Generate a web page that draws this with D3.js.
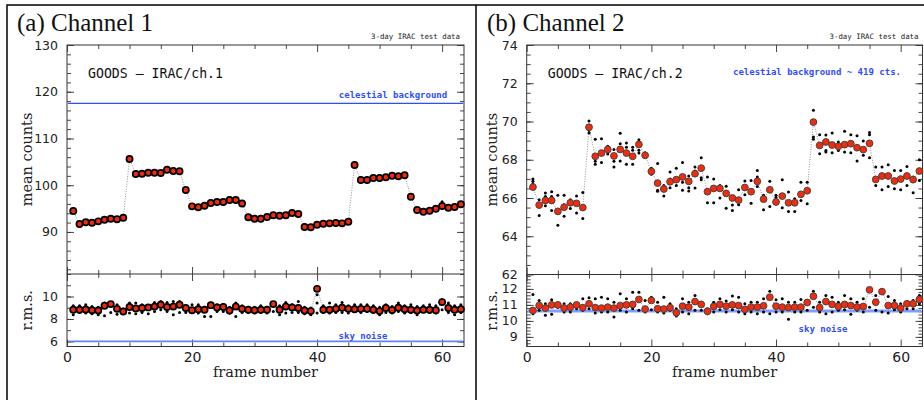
<!DOCTYPE html>
<html><head><meta charset="utf-8">
<script src="https://cdn.jsdelivr.net/npm/d3@7"></script>
<style>body{margin:0;background:#fff}svg{display:block}</style>
</head><body>
<script>
// ---------------- data ----------------
const frames = d3.range(1, 64);
const xMajor = [0, 20, 40, 60];

// Channel 1
const meanA = [94.48,91.69,92.06,91.97,92.27,92.61,92.83,92.70,93.04,105.60,
  102.39,102.46,102.67,102.67,102.61,103.31,103.04,102.97,98.97,95.48,
  95.27,95.61,96.19,96.40,96.40,96.83,96.83,96.08,93.13,92.81,
  92.83,93.19,93.56,93.47,93.56,94.05,93.83,91.05,90.99,91.54,
  91.76,91.84,91.91,91.84,92.19,104.32,101.11,101.11,101.54,101.54,
  101.69,102.03,101.90,102.12,97.54,94.69,94.33,94.54,94.97,95.55,
  95.18,95.33,95.91];
const extraDotsA = [[60, 96.45]];
const rmsA = [8.82,8.82,8.84,8.78,8.75,9.17,9.32,8.90,8.67,9.06,
  8.94,8.97,9.03,9.10,9.26,9.06,9.10,9.26,8.97,8.78,
  8.87,8.82,9.23,9.03,9.06,8.75,9.10,8.90,8.82,8.78,
  8.82,8.82,9.32,8.82,9.10,9.03,8.97,8.75,8.70,10.68,
  8.82,8.82,8.90,9.00,8.90,8.87,8.90,8.90,8.82,8.70,
  8.97,8.80,9.00,8.87,8.82,8.75,8.82,8.82,8.78,9.50,
  8.97,8.82,8.87];
const rmsDotsA = [[9.17,8.37],[9.17,8.58],[9.26,8.52],[9.11,8.46],[9.05,8.37],[9.41,8.29],[9.47,8.58],[9.26,8.43],[8.88,8.58],[9.41,8.52],
  [9.41,8.46],[9.26,8.58],[9.17,8.46],[9.47,8.67],[9.56,8.82],[9.47,8.67],[9.56,8.37],[9.56,8.58],[9.17,8.58],[9.26,8.58],
  [9.26,8.52],[9.05,8.23],[9.41,8.23],[9.26,8.67],[9.26,8.67],[9.05,8.52],[9.41,8.23],[9.17,8.58],[9.05,8.58],[9.05,8.52],
  [9.17,8.58],[9.05,8.52],[9.41,8.67],[9.17,8.37],[9.47,8.52],[9.26,8.58],[9.56,8.58],[9.05,8.46],[8.97,8.37],[10.15,9.41,8.52],
  [9.17,8.58],[9.41,8.52],[9.26,8.58],[9.47,8.58],[9.17,8.52],[9.26,8.67],[9.26,8.58],[9.26,8.67],[9.17,8.58],[9.05,8.37],
  [9.26,8.58],[9.11,8.52],[9.41,8.67],[9.17,8.52],[9.26,8.58],[9.11,8.37],[9.17,8.67],[9.26,8.58],[9.17,8.52],[9.70,8.82],
  [9.41,8.58],[9.17,8.37],[9.26,8.58]];
const celestialA = 117.5;
const skyA = 6.0;

// Channel 2
const meanB = [66.57,65.63,65.87,65.87,65.30,65.52,65.75,65.72,65.50,69.70,
  68.18,68.35,68.54,68.20,68.54,68.35,68.18,68.80,68.23,67.39,
  66.78,66.47,66.85,66.96,67.10,66.87,67.27,67.56,66.33,66.50,
  66.50,66.24,66.00,65.89,66.55,66.33,66.87,65.94,66.43,65.79,
  66.10,65.75,65.75,66.19,66.38,69.97,68.75,68.93,68.77,68.70,
  68.79,68.84,68.63,68.53,68.86,66.97,67.15,67.15,66.89,66.99,
  67.15,66.96,67.41];
const dotsB = [[67.0,66.87,66.75],[65.91,65.09],[66.26,66.08,65.6],[66.33,66.08,65.35],[66.15,65.21,64.57],[66.15,65.65,65.05],[65.91,65.79,65.45],[66.1,65.21],[66.29,64.93],[70.03,69.54,69.4],
  [69.07,67.92,67.76],[69.1,67.86,68.4],[68.7,68.63,68.3],[68.53,67.62,67.92],[69.38,68.84,67.93],[68.87,67.76,68.66],[68.66,67.76,68.5],[69.05,68.5,68.35],[68.37,68.28,68.14],[67.56,67.44,67.24],
  [67.8,66.4,66.35],[66.66,66.1],[67.36,67.0,66.54],[67.56,66.66],[67.86,66.83,66.4],[67.15,66.54,66.36],[67.62,67.41,66.52],[68.11,67.06,66.96],[67.1,65.75],[67.0,65.75],
  [66.66,66.0],[66.62,65.47],[65.63,65.35],[66.43,65.65],[66.89,66.17],[66.92,65.73],[67.44,67.1,66.6],[66.14,65.39],[66.87,65.56],[66.14,66.02],
  [66.96,65.49],[66.31,65.3],[65.96,65.3],[66.82,65.87],[66.82,65.7],[70.59,69.19,69.07],[69.31,68.32],[69.29,68.49,68.4],[69.4,68.37],[68.93,68.49],
  [69.49,68.4],[69.31,68.37],[69.26,67.93],[68.98,68.23],[69.43,69.31,68.11],[67.62,66.66],[67.62,66.43],[67.74,66.6],[67.44,66.49],[67.44,66.43],
  [67.65,66.66],[67.1,66.28],[68.0,66.92]];
const rmsB = [10.65,10.96,10.80,11.00,11.00,10.80,10.86,11.00,10.83,11.07,
  10.83,10.80,10.86,10.80,10.96,11.00,11.03,11.34,10.74,11.28,
  10.76,10.74,10.83,10.51,10.92,10.86,11.21,11.03,10.60,10.90,
  11.03,10.92,11.00,10.96,10.72,10.86,10.86,10.94,11.48,10.92,
  10.86,10.83,10.86,10.86,11.15,11.54,10.83,11.21,11.03,10.90,
  11.03,10.96,10.86,10.90,11.94,11.17,11.83,10.96,10.96,10.80,
  11.07,11.07,11.34];
const rmsDotsB = [[11.65,10.55,10.45],[11.28,10.66],[11.07,10.35],[11.32,10.41],[11.07,10.86],[11.07,10.55],[11.07,10.55],[11.07,10.76],[11.38,10.66],[11.44,10.76],
  [11.38,10.49],[11.48,10.55],[11.38,10.55],[11.17,10.24],[11.69,10.66],[11.38,10.55],[11.79,10.76],[11.79,10.66],[11.28,10.55],[11.48,10.70],
  [11.17,10.55],[11.48,10.49],[11.07,10.66],[10.76,10.31],[11.38,10.55],[11.17,10.45],[11.59,10.66],[11.17,10.66],[10.76,10.45],[11.17,10.55],
  [11.38,10.70],[11.24,10.55],[11.55,10.70],[11.48,10.55],[11.07,10.45],[11.17,10.55],[11.17,10.45],[11.38,10.55],[11.86,10.45],[11.32,10.55],
  [11.38,10.55],[11.17,10.10],[11.17,10.55],[11.34,10.55],[11.28,10.66],[11.86,10.86],[11.17,10.55],[11.59,10.45],[11.48,10.55],[11.17,10.66],
  [11.59,10.70],[11.38,10.41],[11.17,10.66],[11.38,10.55],[11.90,10.86],[11.59,10.66],[11.90,10.55],[11.52,10.49],[11.28,10.70],[11.07,10.55],
  [11.17,10.76],[11.28,10.76],[11.59,11.07]];
const skyB = 10.62;

// ---------------- drawing ----------------
const W = 924, H = 400;
const svg = d3.select("body").append("svg").attr("width", W).attr("height", H);
const RED = "#f42a0c", BLUE = "#2f4dff";
const NUMFONT = "DejaVu Sans", SERIF = "DejaVu Serif", MONO = "DejaVu Sans Mono";

// outer frames
svg.append("path").attr("d", "M7,400 V5 H924 M476,5 V400")
  .attr("fill", "none").attr("stroke", "#000").attr("stroke-width", 1.5);

function styleAxis(g, size) {
  g.select(".domain").remove();
  g.selectAll(".tick line").attr("stroke", "#333").attr("stroke-width", 0.9);
  g.selectAll("text").attr("font-family", NUMFONT).attr("font-size", size || 12.5)
    .attr("fill", "#222");
}

function panel(cfg) {
  const g = svg.append("g");
  const x = d3.scaleLinear().domain([0, 63.5]).range([cfg.left, cfg.right]);
  const yT = d3.scaleLinear().domain(cfg.topDomain).range([cfg.split, cfg.top]);
  const yR = d3.scaleLinear().domain(cfg.rmsDomain).range([cfg.bottom, cfg.split]);
  const xMinor = d3.range(0, 64, 5).filter(v => v % 20 !== 0);

  // boxes
  g.append("rect").attr("x", cfg.left).attr("y", cfg.top)
    .attr("width", cfg.right - cfg.left).attr("height", cfg.bottom - cfg.top)
    .attr("fill", "none").attr("stroke", "#333").attr("stroke-width", 1);
  g.append("line").attr("x1", cfg.left).attr("x2", cfg.right)
    .attr("y1", cfg.split).attr("y2", cfg.split).attr("stroke", "#333").attr("stroke-width", 1);

  // x ticks: inward on all four horizontal edges
  const xEdges = [[cfg.top, d3.axisBottom], [cfg.split, d3.axisTop], [cfg.split, d3.axisBottom]];
  xEdges.forEach(([yy, ax]) => {
    g.append("g").attr("transform", `translate(0,${yy})`)
      .call(ax(x).tickValues(xMinor).tickSize(4).tickFormat("")).call(styleAxis);
    g.append("g").attr("transform", `translate(0,${yy})`)
      .call(ax(x).tickValues(xMajor).tickSize(7).tickFormat("")).call(styleAxis);
  });
  g.append("g").attr("transform", `translate(0,${cfg.bottom})`)
    .call(d3.axisBottom(x).tickValues(xMinor).tickSize(-4).tickFormat("")).call(styleAxis);
  g.append("g").attr("transform", `translate(0,${cfg.bottom})`)
    .call(d3.axisBottom(x).tickValues(xMajor).tickSizeInner(-7).tickSizeOuter(0).tickPadding(6))
    .call(g2 => styleAxis(g2, 14));

  // y ticks
  function yTicks(scale, minor, major, labels) {
    g.append("g").attr("transform", `translate(${cfg.left},0)`)
      .call(d3.axisLeft(scale).tickValues(minor).tickSize(-4).tickFormat("")).call(styleAxis);
    g.append("g").attr("transform", `translate(${cfg.right},0)`)
      .call(d3.axisRight(scale).tickValues(minor).tickSize(-4).tickFormat("")).call(styleAxis);
    g.append("g").attr("transform", `translate(${cfg.right},0)`)
      .call(d3.axisRight(scale).tickValues(major).tickSize(-7).tickFormat("")).call(styleAxis);
    g.append("g").attr("transform", `translate(${cfg.left},0)`)
      .call(d3.axisLeft(scale).tickValues(major).tickSizeInner(-7).tickSizeOuter(0).tickPadding(9)
        .tickFormat(d => labels.includes(d) ? d : ""))
      .call(styleAxis);
  }
  yTicks(yT, cfg.topMinor, cfg.topMajor, cfg.topLabels);
  yTicks(yR, cfg.rmsMinor, cfg.rmsMajor, cfg.rmsLabels);

  // reference lines
  if (cfg.celestial !== undefined) {
    g.append("line").attr("x1", cfg.left + 1).attr("x2", cfg.right - 1)
      .attr("y1", yT(cfg.celestial)).attr("y2", yT(cfg.celestial))
      .attr("stroke", BLUE).attr("stroke-width", 1.1);
  }
  g.append("line").attr("x1", cfg.left + 1).attr("x2", cfg.right - 1)
    .attr("y1", yR(cfg.sky)).attr("y2", yR(cfg.sky))
    .attr("stroke", cfg.skyColor).attr("stroke-width", cfg.skyWidth);

  // top panel data
  const line = (ys, arr) => d3.line().x((d, i) => x(frames[i])).y(d => ys(d))(arr);
  g.append("path").attr("d", line(yT, cfg.mean)).attr("fill", "none")
    .attr("stroke", "#777").attr("stroke-width", 0.8).attr("stroke-dasharray", "1,1.5");
  if (cfg.dots) {
    cfg.dots.forEach((arr, i) => arr.forEach(v => g.append("circle")
      .attr("cx", x(frames[i])).attr("cy", yT(v)).attr("r", 1.5).attr("fill", "#000")));
  }
  g.selectAll(null).data(cfg.mean).join("circle")
    .attr("cx", (d, i) => x(frames[i])).attr("cy", d => yT(d))
    .attr("r", cfg.r).attr("fill", RED).attr("stroke", cfg.ring).attr("stroke-width", cfg.ringW);
  if (cfg.extraDots) {
    cfg.extraDots.forEach(([f, v]) => g.append("circle")
      .attr("cx", x(f)).attr("cy", yT(v)).attr("r", 1.5).attr("fill", "#000"));
  }

  // rms panel data
  g.append("path").attr("d", line(yR, cfg.rms)).attr("fill", "none")
    .attr("stroke", "#777").attr("stroke-width", 0.8).attr("stroke-dasharray", "1,1.5");
  cfg.rmsDots.forEach((arr, i) => arr.forEach(v => g.append("circle")
    .attr("cx", x(frames[i])).attr("cy", yR(v)).attr("r", 1.5).attr("fill", "#000")));
  g.selectAll(null).data(cfg.rms).join("circle")
    .attr("cx", (d, i) => x(frames[i])).attr("cy", d => yR(d))
    .attr("r", cfg.r).attr("fill", RED).attr("stroke", cfg.ring).attr("stroke-width", cfg.ringW);

  // texts
  const T = (tx, ty, s, o) => {
    const t = g.append("text").attr("x", tx).attr("y", ty).text(s);
    Object.entries(o).forEach(([k, v]) => t.attr(k, v));
    return t;
  };
  T(cfg.titleX, 31, cfg.title, {"font-family": "Liberation Serif", "font-size": 25, fill: "#111"});
  T(cfg.right - 4, 39, "3-day IRAC test data", {"font-family": MONO, "font-size": 7.4, "text-anchor": "end", fill: "#222"});
  T(cfg.left + 21, 78, cfg.goods, {"font-family": MONO, "font-size": 13.2, fill: "#111"});
  T(cfg.celX, cfg.celY, cfg.celText, {"font-family": MONO, "font-size": 9, "font-weight": "bold", fill: BLUE, "text-anchor": "middle"});
  T(cfg.skyX, cfg.skyY, "sky noise", {"font-family": MONO, "font-size": 9, "font-weight": "bold", fill: BLUE, "text-anchor": "middle"});
  T((cfg.left + cfg.right) / 2, 377, "frame number", {"font-family": SERIF, "font-size": 14.5, "text-anchor": "middle", fill: "#222"});
  T(0, 0, "mean counts", {"font-family": SERIF, "font-size": 14.5, "text-anchor": "middle", fill: "#222",
    transform: `translate(${cfg.ylabX},${(cfg.top + cfg.split) / 2}) rotate(-90)`});
  T(0, 0, "r.m.s.", {"font-family": SERIF, "font-size": 14.5, "text-anchor": "middle", fill: "#222",
    transform: `translate(${cfg.ylabX},${(cfg.split + cfg.bottom) / 2}) rotate(-90)`});
}

panel({
  left: 67, right: 464, top: 45, split: 274, bottom: 346.5,
  topDomain: [81, 130], rmsDomain: [5.55, 12],
  topMinor: d3.range(82, 130, 2), topMajor: [90, 100, 110, 120, 130], topLabels: [90, 100, 110, 120, 130],
  rmsMinor: d3.range(6, 12.01, 1), rmsMajor: [6, 8, 10], rmsLabels: [6, 8, 10],
  mean: meanA, extraDots: extraDotsA, rms: rmsA, rmsDots: rmsDotsA,
  celestial: celestialA, sky: skyA, skyColor: "#5f82ff", skyWidth: 1.8,
  r: 3.1, ring: "#000", ringW: 1.7,
  title: "(a) Channel 1", titleX: 17, goods: "GOODS \u2013 IRAC/ch.1",
  celText: "celestial background", celX: 393, celY: 98,
  skyX: 363, skyY: 339, ylabX: 32
});

panel({
  left: 526.7, right: 922.5, top: 45, split: 274.5, bottom: 346.5,
  topDomain: [62, 74], rmsDomain: [8.4, 12.9],
  topMinor: d3.range(62.5, 74, 0.5), topMajor: [62, 64, 66, 68, 70, 72, 74], topLabels: [62, 64, 66, 68, 70, 72, 74],
  rmsMinor: d3.range(8.6, 12.9, 0.2), rmsMajor: [9, 10, 11, 12], rmsLabels: [9, 10, 11, 12],
  mean: meanB, dots: dotsB, rms: rmsB, rmsDots: rmsDotsB,
  sky: skyB, skyColor: "#7e9eff", skyWidth: 2.8,
  r: 3.4, ring: "#444", ringW: 1,
  title: "(b) Channel 2", titleX: 487, goods: "GOODS \u2013 IRAC/ch.2",
  celText: "celestial background ~ 419 cts.", celX: 817, celY: 75,
  skyX: 823, skyY: 332, ylabX: 497
});
</script>
</body></html>
